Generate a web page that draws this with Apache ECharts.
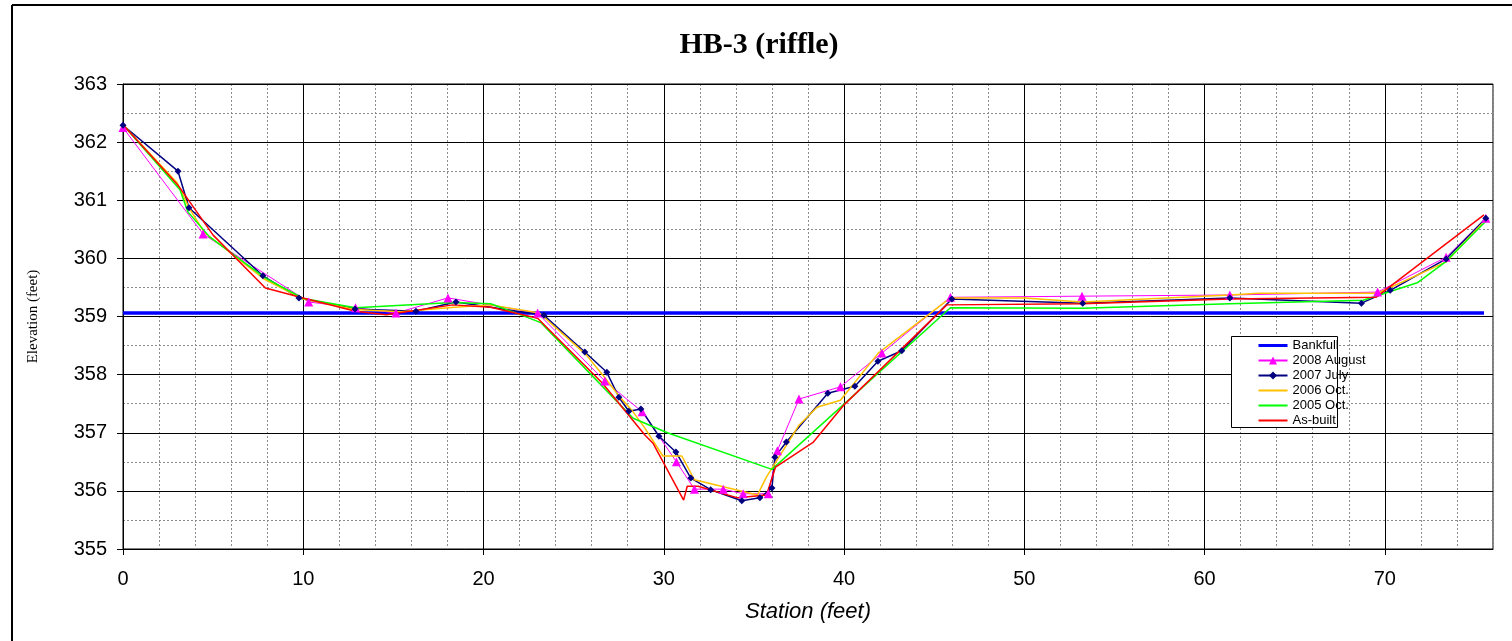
<!DOCTYPE html>
<html>
<head>
<meta charset="utf-8">
<script src="https://cdn.jsdelivr.net/npm/echarts@6/dist/echarts.min.js"></script>
<style>
html,body{margin:0;padding:0;background:#fff;}
#c{width:1512px;height:641px;}
</style>
</head>
<body>
<div id="c"></div>
<script>
const xTicks = [0, 10, 20, 30, 40, 50, 60, 70];
const yTicks = [355, 356, 357, 358, 359, 360, 361, 362, 363];

const bankfullX = [0, 75.5];
const bankfullY = [359.06, 359.06];

const aug2008X = [0, 4.44, 10.3, 12.9, 15.14, 18.03, 23.0, 26.73, 28.8, 30.7, 31.7, 33.3, 34.4, 35.8, 36.3, 37.5, 39.8, 42.1, 45.9, 53.2, 61.4, 69.6, 73.4, 75.6];
const aug2008Y = [362.25, 360.42, 359.25, 359.15, 359.06, 359.32, 359.06, 357.89, 357.36, 356.50, 356.03, 356.03, 355.95, 355.95, 356.69, 357.58, 357.79, 358.37, 359.33, 359.35, 359.37, 359.42, 360.02, 360.69];

const jul2007X = [0, 3.05, 3.66, 7.76, 9.76, 12.87, 16.25, 18.47, 23.35, 25.62, 26.84, 27.51, 28.06, 28.73, 29.73, 30.67, 31.5, 32.6, 34.33, 35.33, 36.0, 36.16, 36.8, 39.1, 40.6, 41.88, 43.2, 45.98, 53.24, 61.4, 68.7, 70.3, 73.4, 75.6];
const jul2007Y = [362.29, 361.50, 360.87, 359.70, 359.32, 359.13, 359.09, 359.25, 359.02, 358.39, 358.04, 357.61, 357.37, 357.41, 356.94, 356.67, 356.22, 356.02, 355.83, 355.88, 356.05, 356.58, 356.84, 357.68, 357.80, 358.23, 358.41, 359.30, 359.23, 359.32, 359.23, 359.45, 359.99, 360.69];

const oct2006X = [0, 3.0, 3.7, 4.5, 7.8, 10.0, 12.9, 15.4, 18.4, 20.4, 23.1, 25.7, 26.7, 27.6, 28.3, 28.95, 29.95, 31.0, 31.7, 35.2, 35.7, 37.5, 38.5, 39.8, 41.9, 45.9, 50, 53.2, 61.4, 63, 69.6, 73.4, 75.4];
const oct2006Y = [362.3, 361.3, 360.85, 360.45, 359.65, 359.3, 359.12, 359.08, 359.16, 359.2, 359.06, 358.34, 357.96, 357.6, 357.36, 357.08, 356.6, 356.6, 356.19, 355.93, 356.24, 357.13, 357.44, 357.56, 358.37, 359.32, 359.32, 359.25, 359.37, 359.4, 359.4, 359.94, 360.6];

const oct2005X = [0, 3.16, 3.6, 4.8, 7.9, 10.0, 12.9, 18.3, 20.4, 22.4, 23.2, 28.3, 30.2, 36.0, 45.9, 53.2, 61.4, 68.8, 71.8, 73.4, 75.6];
const oct2005Y = [362.3, 361.18, 360.8, 360.37, 359.66, 359.31, 359.15, 359.24, 359.22, 358.99, 358.89, 357.25, 357.0, 356.37, 359.15, 359.14, 359.22, 359.28, 359.58, 359.95, 360.64];

const asBuiltX = [0, 3.05, 5.0, 7.9, 10.1, 12.9, 14.6, 18.3, 20.4, 23.0, 26.6, 28.95, 29.4, 31.1, 31.3, 31.9, 34.1, 35.7, 36.2, 38.3, 40.0, 45.7, 53.2, 61.4, 69.5, 75.5];
const asBuiltY = [362.3, 361.26, 360.4, 359.49, 359.31, 359.09, 359.03, 359.2, 359.16, 358.97, 357.85, 356.96, 356.82, 355.84, 356.08, 356.08, 355.88, 355.93, 356.41, 356.84, 357.48, 359.2, 359.22, 359.3, 359.33, 360.75];

const names = ['Bankfull', '2008 August', '2007 July', '2006 Oct.', '2005 Oct.', 'As-built'];
const withMarker = [false, true, true, false, false, false];

function pairs(xs, ys) { return xs.map((x, i) => [x, ys[i]]); }

const chart = echarts.init(document.getElementById('c'), null, {renderer: 'canvas'});

const G = {left: 123, top: 84, width: 1370, height: 465};

function legendItem(n, i) {
  const item = {name: n};
  if (!withMarker[i]) item.itemStyle = {opacity: 0};
  if (i === 0) item.lineStyle = {width: 3};
  return item;
}

const option = {
  animation: false,
  backgroundColor: '#fff',
  grid: {left: G.left, top: G.top, width: G.width, height: G.height, show: true, borderColor: '#000', borderWidth: 1, backgroundColor: 'transparent'},
  xAxis: [
    {
      type: 'value', min: xTicks[0], max: 76, interval: 10, z: 2,
      name: 'Station (feet)', nameLocation: 'middle', nameGap: 52,
      nameTextStyle: {fontFamily: 'Liberation Sans, Arial', fontSize: 22, fontStyle: 'italic', color: '#000'},
      axisLine: {show: true, lineStyle: {color: '#000', width: 1}},
      axisTick: {show: true, length: 6, inside: false, customValues: xTicks, lineStyle: {color: '#000'}},
      axisLabel: {show: true, margin: 20, fontFamily: 'Liberation Sans, Arial', fontSize: 20, color: '#000',
        formatter: v => (xTicks.indexOf(v) >= 0 ? String(v) : '')},
      splitLine: {show: true, lineStyle: {color: '#000', width: 1, type: 'solid'}}
    },
    {
      type: 'value', min: 0, max: 76, interval: 2, position: 'top', z: 1,
      axisLine: {show: false}, axisTick: {show: false}, axisLabel: {show: false},
      splitLine: {show: true, lineStyle: {color: '#8c8c8c', width: 1, type: [2, 2]}}
    }
  ],
  yAxis: [
    {
      type: 'value', min: yTicks[0], max: yTicks[yTicks.length - 1], interval: 1, z: 2,
      name: 'Elevation (feet)', nameLocation: 'middle', nameGap: 82,
      nameTextStyle: {fontFamily: 'Liberation Serif, Times New Roman', fontSize: 15, color: '#000'},
      axisLine: {show: true, lineStyle: {color: '#000', width: 1}},
      axisTick: {show: true, length: 6, lineStyle: {color: '#000'}},
      axisLabel: {show: true, margin: 16, fontFamily: 'Liberation Sans, Arial', fontSize: 20, color: '#000'},
      splitLine: {show: true, lineStyle: {color: '#000', width: 1, type: 'solid'}}
    },
    {
      type: 'value', min: 355, max: 363, interval: 0.5, position: 'right', z: 1,
      axisLine: {show: false}, axisTick: {show: false}, axisLabel: {show: false},
      splitLine: {show: true, lineStyle: {color: '#8c8c8c', width: 1, type: [2, 2]}}
    }
  ],
  legend: {
    orient: 'vertical', left: 1257, top: 338, padding: 0, itemGap: 0, z: 10,
    itemWidth: 29, itemHeight: 10,
    textStyle: {fontFamily: 'Liberation Sans, Arial', fontSize: 13, color: '#000', lineHeight: 15},
    data: names.map(legendItem)
  },
  graphic: [
    {type: 'rect', z: 9, shape: {x: 1231.5, y: 336.5, width: 106, height: 91}, style: {fill: '#fff', stroke: '#000', lineWidth: 1}},
    {type: 'line', z: 10, shape: {x1: 12, y1: 5, x2: 1512, y2: 5}, style: {stroke: '#000', lineWidth: 2}},
    {type: 'line', z: 10, shape: {x1: 12, y1: 5, x2: 12, y2: 641}, style: {stroke: '#000', lineWidth: 2}},
    {type: 'text', z: 10, x: 759, y: 45, style: {text: 'HB-3 (riffle)', font: 'bold 30px "Liberation Serif", "Times New Roman", serif', fill: '#000', textAlign: 'center', textVerticalAlign: 'middle'}}
  ],
  series: [
    {name: names[0], type: 'line', data: pairs(bankfullX, bankfullY), symbol: 'none', lineStyle: {color: '#0000ff', width: 3.5}, itemStyle: {color: '#0000ff'}, z: 3},
    {name: names[1], type: 'line', data: pairs(aug2008X, aug2008Y), symbol: 'triangle', symbolSize: 9, lineStyle: {color: '#ff00ff', width: 1}, itemStyle: {color: '#ff00ff'}, z: 3},
    {name: names[2], type: 'line', data: pairs(jul2007X, jul2007Y), symbol: 'diamond', symbolSize: 7, lineStyle: {color: '#000080', width: 1.5}, itemStyle: {color: '#000080'}, z: 3},
    {name: names[3], type: 'line', data: pairs(oct2006X, oct2006Y), symbol: 'none', lineStyle: {color: '#ffc000', width: 1.5}, itemStyle: {color: '#ffc000'}, z: 3},
    {name: names[4], type: 'line', data: pairs(oct2005X, oct2005Y), symbol: 'none', lineStyle: {color: '#00ff00', width: 1.5}, itemStyle: {color: '#00ff00'}, z: 3},
    {name: names[5], type: 'line', data: pairs(asBuiltX, asBuiltY), symbol: 'none', lineStyle: {color: '#ff0000', width: 1.5}, itemStyle: {color: '#ff0000'}, z: 3}
  ]
};
chart.setOption(option);
</script>
</body>
</html>
